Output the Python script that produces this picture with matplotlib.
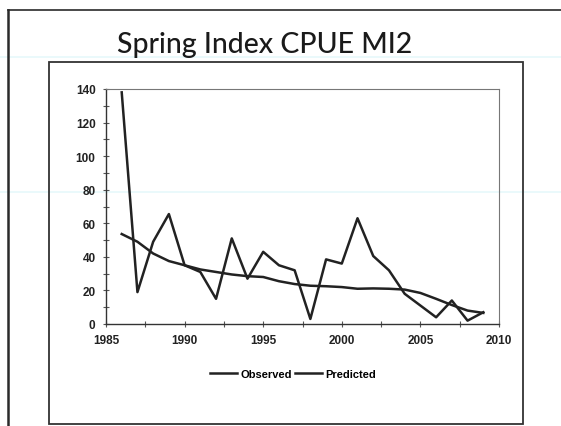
import matplotlib.pyplot as plt
from matplotlib.lines import Line2D
from matplotlib.patches import Rectangle
from matplotlib.ticker import MultipleLocator

years = list(range(1986, 2010))
observed = [138, 19, 49, 65.5, 35, 31, 15, 51, 27, 43, 35, 32, 3,
            38.5, 36, 63, 40.5, 32, 18, 11, 4, 14, 2, 7]
predicted = [53.6, 49, 42, 37.5, 35, 32.5, 31, 29.5, 28.5, 28, 25.5, 23.8, 22.8,
             22.5, 22, 21, 21.2, 21, 20.5, 18.5, 15, 11.3, 8, 6.6]

W, H = 561, 427
fig = plt.figure(figsize=(W / 100, H / 100), dpi=100)
fig.patch.set_facecolor("white")


def fx(px):
    return px / W


def fy(py):
    return 1 - py / H


# faint scan streaks
for yy in (58, 193):
    fig.add_artist(Line2D([0, 1], [fy(yy), fy(yy)], color="#e6f8fb", lw=1.2, zorder=0))

# slide edge (left + top)
fig.add_artist(Line2D([fx(8), fx(8)], [fy(11), 0], color="#2a2a2a", lw=1.8))
fig.add_artist(Line2D([fx(8), 1], [fy(11), fy(11)], color="#2a2a2a", lw=1.2))

# chart frame
fig.add_artist(Rectangle((fx(49), fy(425)), fx(523) - fx(49), fy(63) - fy(425),
                         fill=False, ec="#333333", lw=1.3))

fig.text(fx(265), fy(45), "Spring Index CPUE MI2", ha="center", va="center",
         fontsize=20.5, family="Lato", fontweight="medium", color="#1a1a1a")

ax = fig.add_axes([fx(106), fy(325), fx(499) - fx(106), fy(90) - fy(325)])
ax.set_facecolor("none")
ax.plot(years, observed, color="#222222", lw=1.8, label="Observed")
ax.plot(years, predicted, color="#222222", lw=1.8, label="Predicted")

ax.set_xlim(1985, 2010)
ax.set_ylim(0, 140)
ax.xaxis.set_major_locator(MultipleLocator(5))
ax.xaxis.set_minor_locator(MultipleLocator(2.5))
ax.yaxis.set_major_locator(MultipleLocator(20))
ax.yaxis.set_minor_locator(MultipleLocator(10))
ax.tick_params(which="both", direction="inout", color="#555555", width=0.8)
ax.tick_params(which="major", length=5, labelsize=8.5, pad=5)
ax.tick_params(which="minor", length=4)
for lab in ax.get_xticklabels() + ax.get_yticklabels():
    lab.set_family("Liberation Sans")
    lab.set_fontweight("bold")
    lab.set_fontstretch("normal")
    lab.set_color("#222222")

for side in ("left", "bottom"):
    ax.spines[side].set_color("#333333")
    ax.spines[side].set_linewidth(1.0)
for side in ("top", "right"):
    ax.spines[side].set_color("#777777")
    ax.spines[side].set_linewidth(0.8)

handles, labels = ax.get_legend_handles_labels()
fig.legend(handles, labels, loc="center", bbox_to_anchor=(fx(293), fy(375)),
           ncol=2, frameon=False, handlelength=2.4, handletextpad=0.3,
           columnspacing=0.3,
           prop={"family": "Liberation Sans", "weight": "bold", "stretch": "normal", "size": 8})

fig.savefig("out.png", dpi=100)
